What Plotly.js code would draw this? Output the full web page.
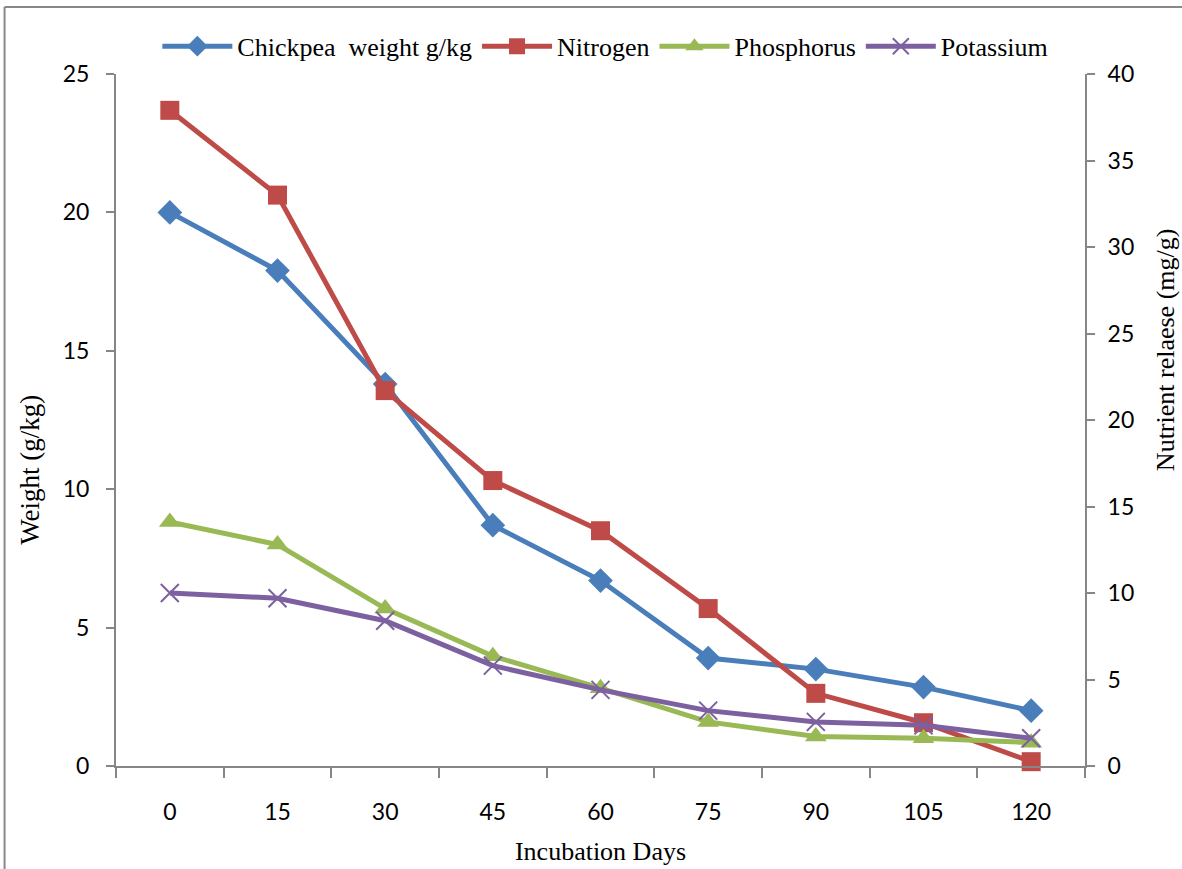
<!DOCTYPE html>
<html>
<head>
<meta charset="utf-8">
<script src="https://cdn.plot.ly/plotly-3.0.1.min.js"></script>
<style>html,body{margin:0;padding:0;background:#fff;}#chart{width:1182px;height:869px;}</style>
</head>
<body>
<div id="chart"></div>
<script>
const days = ['0','15','30','45','60','75','90','105','120'];
const chickpeaWeight = [20.0, 17.9, 13.8, 8.7, 6.7, 3.9, 3.5, 2.85, 2.0];
const nitrogen = [37.9, 33.0, 21.7, 16.5, 13.6, 9.1, 4.2, 2.5, 0.25];
const phosphorus = [14.1, 12.8, 9.1, 6.35, 4.5, 2.55, 1.7, 1.6, 1.35];
const potassium = [10.0, 9.7, 8.4, 5.8, 4.4, 3.2, 2.55, 2.35, 1.6];

const serif = 'Liberation Serif, Times New Roman, serif';
const sans = 'Lato, Open Sans, sans-serif';
const axisGray = '#868686';

const traces = [
  {x: days, y: chickpeaWeight, name: 'Chickpea&nbsp; weight g/kg', yaxis: 'y', mode: 'lines+markers',
   line: {color: '#4A7EBB', width: 5}, marker: {symbol: 'diamond', size: 19, color: '#4A7EBB'}},
  {x: days, y: nitrogen, name: 'Nitrogen', yaxis: 'y2', mode: 'lines+markers',
   line: {color: '#BE4B48', width: 5}, marker: {symbol: 'square', size: 19, color: '#BE4B48'}},
  {x: days, y: phosphorus, name: 'Phosphorus', yaxis: 'y2', mode: 'lines+markers',
   line: {color: '#98B954', width: 5}, marker: {symbol: 'triangle-up', size: 19, color: '#98B954'}},
  {x: days, y: potassium, name: 'Potassium', yaxis: 'y2', mode: 'lines+markers',
   line: {color: '#7D60A0', width: 5}, marker: {symbol: 'x-thin-open', size: 18, color: '#7D60A0', line: {color: '#7D60A0', width: 2}}}
];
traces.forEach(t => t.cliponaxis = false);

const layout = {
  width: 1182, height: 869,
  margin: {l: 116, r: 97, t: 74, b: 103},
  paper_bgcolor: '#fff', plot_bgcolor: '#fff',
  showlegend: true,
  legend: {orientation: 'h', x: 0.505, xanchor: 'center', y: 1.04, yanchor: 'middle',
           font: {family: serif, size: 26, color: '#000'}, itemwidth: 70, tracegroupgap: 0},
  xaxis: {type: 'category', range: [-0.5, 8.5], tickson: 'boundaries', ticks: 'outside', ticklen: 10,
          tickcolor: axisGray, tickwidth: 2, showline: true, linecolor: axisGray, linewidth: 2,
          showgrid: false, zeroline: false, ticklabelstandoff: 24,
          tickfont: {family: sans, size: 23, color: '#000'},
          title: {text: 'Incubation Days', font: {family: serif, size: 26, color: '#000'}, standoff: 18}},
  yaxis: {range: [0, 25], dtick: 5, ticks: 'outside', ticklen: 8, tickcolor: axisGray, tickwidth: 2,
          showline: true, linecolor: axisGray, linewidth: 2, showgrid: false, zeroline: false,
          ticklabelstandoff: 12,
          tickfont: {family: sans, size: 23, color: '#000'}},
  yaxis2: {range: [0, 40], dtick: 5, overlaying: 'y', side: 'right', ticks: 'outside', ticklen: 8,
           tickcolor: axisGray, tickwidth: 2, showline: true, linecolor: axisGray, linewidth: 2,
           showgrid: false, zeroline: false, ticklabelstandoff: 8,
           tickfont: {family: sans, size: 23, color: '#000'}},
  annotations: [
    {text: 'Weight (g/kg)', xref: 'paper', yref: 'paper', x: -0.0888, y: 0.428, textangle: -90,
     showarrow: false, xanchor: 'center', yanchor: 'middle', font: {family: serif, size: 27, color: '#000'}},
    {text: 'Nutrient relaese (mg/g)', xref: 'paper', yref: 'paper', x: 1.0826, y: 0.601, textangle: -90,
     showarrow: false, xanchor: 'center', yanchor: 'middle', font: {family: serif, size: 26, color: '#000'}}
  ],
  shapes: [
    {type: 'line', xref: 'paper', yref: 'paper', x0: -0.115, x1: 1.2, y0: 1.097, y1: 1.097,
     line: {color: '#888', width: 2}, layer: 'below'},
    {type: 'line', xref: 'paper', yref: 'paper', x0: -0.115, x1: -0.115, y0: -0.2, y1: 1.097,
     line: {color: '#888', width: 2}, layer: 'below'}
  ]
};

Plotly.newPlot('chart', traces, layout, {staticPlot: true, displayModeBar: false});
</script>
</body>
</html>
